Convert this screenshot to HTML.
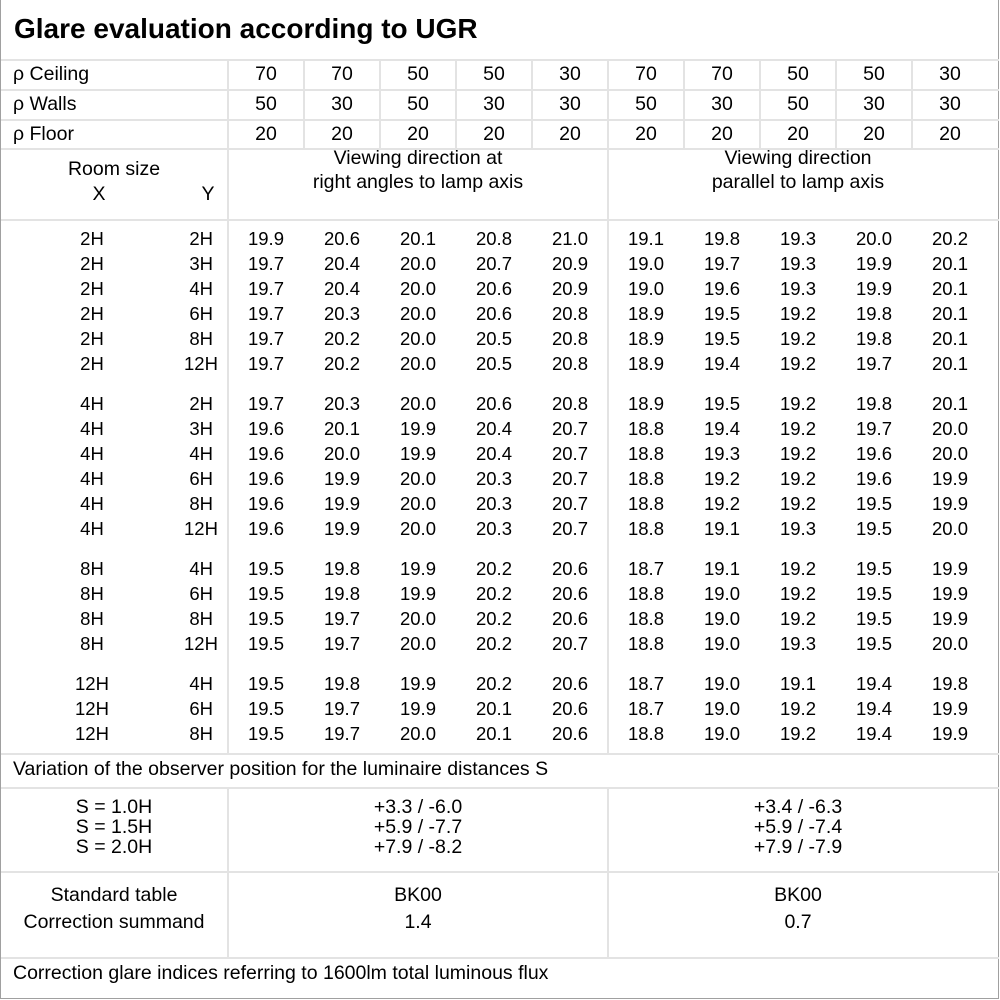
<!DOCTYPE html>
<html><head><meta charset="utf-8"><style>
*{margin:0;padding:0;box-sizing:border-box}
body{width:1000px;height:1000px;background:#fff;position:relative;overflow:hidden;font-family:"Liberation Sans","DejaVu Sans",sans-serif;font-size:19.5px;color:#000}
.frame{position:absolute;left:0;top:0;width:999px;height:999px;border:1px solid #a0a0a0;border-top:none}
.h{position:absolute;height:2px;background:#e3e3e3}
.v{position:absolute;width:2px;background:#e3e3e3}
.t{position:absolute;line-height:20px;white-space:nowrap}
.c{position:absolute;line-height:20px;white-space:nowrap;text-align:center}
.r{position:absolute;left:0;line-height:20px;white-space:nowrap;font-size:18.5px}
.r span{display:inline-block;width:76px;text-align:center}
.r span:first-child{width:184px}
.r span:nth-child(2){width:29px;text-align:right;margin-right:15px}
.hr span{display:inline-block;width:76px;text-align:center}
</style></head><body>
<div class="frame"></div>
<div class="t" style="left:14px;top:13px;font-size:28px;font-weight:bold;line-height:32px">Glare evaluation according to UGR</div>

<div class="h" style="left:1px;width:998px;top:59px"></div>
<div class="h" style="left:1px;width:998px;top:89px"></div>
<div class="h" style="left:1px;width:998px;top:119px"></div>
<div class="h" style="left:1px;width:998px;top:148px"></div>
<div class="h" style="left:1px;width:998px;top:219px"></div>
<div class="h" style="left:1px;width:998px;top:753px"></div>
<div class="h" style="left:1px;width:998px;top:787px"></div>
<div class="h" style="left:1px;width:998px;top:871px"></div>
<div class="h" style="left:1px;width:998px;top:957px"></div>

<div class="v" style="left:227px;top:60px;height:694px"></div>
<div class="v" style="left:227px;top:788px;height:170px"></div>
<div class="v" style="left:607px;top:149px;height:605px"></div>
<div class="v" style="left:607px;top:788px;height:170px"></div>
<div class="v" style="left:303px;top:60px;height:89px"></div>
<div class="v" style="left:379px;top:60px;height:89px"></div>
<div class="v" style="left:455px;top:60px;height:89px"></div>
<div class="v" style="left:531px;top:60px;height:89px"></div>
<div class="v" style="left:607px;top:60px;height:89px"></div>
<div class="v" style="left:683px;top:60px;height:89px"></div>
<div class="v" style="left:759px;top:60px;height:89px"></div>
<div class="v" style="left:835px;top:60px;height:89px"></div>
<div class="v" style="left:911px;top:60px;height:89px"></div>

<div class="t" style="left:13px;top:64px">ρ Ceiling</div>
<div class="t" style="left:13px;top:94px">ρ Walls</div>
<div class="t" style="left:13px;top:124px">ρ Floor</div>
<div class="t hr" style="left:228px;top:64px"><span>70</span><span>70</span><span>50</span><span>50</span><span>30</span><span>70</span><span>70</span><span>50</span><span>50</span><span>30</span></div>
<div class="t hr" style="left:228px;top:94px"><span>50</span><span>30</span><span>50</span><span>30</span><span>30</span><span>50</span><span>30</span><span>50</span><span>30</span><span>30</span></div>
<div class="t hr" style="left:228px;top:124px"><span>20</span><span>20</span><span>20</span><span>20</span><span>20</span><span>20</span><span>20</span><span>20</span><span>20</span><span>20</span></div>

<div class="c" style="left:0;width:228px;top:159px">Room size</div>
<div class="c" style="left:84px;width:30px;top:184px">X</div>
<div class="c" style="left:193px;width:30px;top:184px">Y</div>
<div class="c" style="left:228px;width:380px;top:146px;line-height:24px">Viewing direction at<br>right angles to lamp axis</div>
<div class="c" style="left:608px;width:380px;top:146px;line-height:24px">Viewing direction<br>parallel to lamp axis</div>

<div class="r" style="top:229px"><span>2H</span><span>2H</span><span>19.9</span><span>20.6</span><span>20.1</span><span>20.8</span><span>21.0</span><span>19.1</span><span>19.8</span><span>19.3</span><span>20.0</span><span>20.2</span></div>
<div class="r" style="top:254px"><span>2H</span><span>3H</span><span>19.7</span><span>20.4</span><span>20.0</span><span>20.7</span><span>20.9</span><span>19.0</span><span>19.7</span><span>19.3</span><span>19.9</span><span>20.1</span></div>
<div class="r" style="top:279px"><span>2H</span><span>4H</span><span>19.7</span><span>20.4</span><span>20.0</span><span>20.6</span><span>20.9</span><span>19.0</span><span>19.6</span><span>19.3</span><span>19.9</span><span>20.1</span></div>
<div class="r" style="top:304px"><span>2H</span><span>6H</span><span>19.7</span><span>20.3</span><span>20.0</span><span>20.6</span><span>20.8</span><span>18.9</span><span>19.5</span><span>19.2</span><span>19.8</span><span>20.1</span></div>
<div class="r" style="top:329px"><span>2H</span><span>8H</span><span>19.7</span><span>20.2</span><span>20.0</span><span>20.5</span><span>20.8</span><span>18.9</span><span>19.5</span><span>19.2</span><span>19.8</span><span>20.1</span></div>
<div class="r" style="top:354px"><span>2H</span><span>12H</span><span>19.7</span><span>20.2</span><span>20.0</span><span>20.5</span><span>20.8</span><span>18.9</span><span>19.4</span><span>19.2</span><span>19.7</span><span>20.1</span></div>

<div class="r" style="top:394px"><span>4H</span><span>2H</span><span>19.7</span><span>20.3</span><span>20.0</span><span>20.6</span><span>20.8</span><span>18.9</span><span>19.5</span><span>19.2</span><span>19.8</span><span>20.1</span></div>
<div class="r" style="top:419px"><span>4H</span><span>3H</span><span>19.6</span><span>20.1</span><span>19.9</span><span>20.4</span><span>20.7</span><span>18.8</span><span>19.4</span><span>19.2</span><span>19.7</span><span>20.0</span></div>
<div class="r" style="top:444px"><span>4H</span><span>4H</span><span>19.6</span><span>20.0</span><span>19.9</span><span>20.4</span><span>20.7</span><span>18.8</span><span>19.3</span><span>19.2</span><span>19.6</span><span>20.0</span></div>
<div class="r" style="top:469px"><span>4H</span><span>6H</span><span>19.6</span><span>19.9</span><span>20.0</span><span>20.3</span><span>20.7</span><span>18.8</span><span>19.2</span><span>19.2</span><span>19.6</span><span>19.9</span></div>
<div class="r" style="top:494px"><span>4H</span><span>8H</span><span>19.6</span><span>19.9</span><span>20.0</span><span>20.3</span><span>20.7</span><span>18.8</span><span>19.2</span><span>19.2</span><span>19.5</span><span>19.9</span></div>
<div class="r" style="top:519px"><span>4H</span><span>12H</span><span>19.6</span><span>19.9</span><span>20.0</span><span>20.3</span><span>20.7</span><span>18.8</span><span>19.1</span><span>19.3</span><span>19.5</span><span>20.0</span></div>

<div class="r" style="top:559px"><span>8H</span><span>4H</span><span>19.5</span><span>19.8</span><span>19.9</span><span>20.2</span><span>20.6</span><span>18.7</span><span>19.1</span><span>19.2</span><span>19.5</span><span>19.9</span></div>
<div class="r" style="top:584px"><span>8H</span><span>6H</span><span>19.5</span><span>19.8</span><span>19.9</span><span>20.2</span><span>20.6</span><span>18.8</span><span>19.0</span><span>19.2</span><span>19.5</span><span>19.9</span></div>
<div class="r" style="top:609px"><span>8H</span><span>8H</span><span>19.5</span><span>19.7</span><span>20.0</span><span>20.2</span><span>20.6</span><span>18.8</span><span>19.0</span><span>19.2</span><span>19.5</span><span>19.9</span></div>
<div class="r" style="top:634px"><span>8H</span><span>12H</span><span>19.5</span><span>19.7</span><span>20.0</span><span>20.2</span><span>20.7</span><span>18.8</span><span>19.0</span><span>19.3</span><span>19.5</span><span>20.0</span></div>

<div class="r" style="top:674px"><span>12H</span><span>4H</span><span>19.5</span><span>19.8</span><span>19.9</span><span>20.2</span><span>20.6</span><span>18.7</span><span>19.0</span><span>19.1</span><span>19.4</span><span>19.8</span></div>
<div class="r" style="top:699px"><span>12H</span><span>6H</span><span>19.5</span><span>19.7</span><span>19.9</span><span>20.1</span><span>20.6</span><span>18.7</span><span>19.0</span><span>19.2</span><span>19.4</span><span>19.9</span></div>
<div class="r" style="top:724px"><span>12H</span><span>8H</span><span>19.5</span><span>19.7</span><span>20.0</span><span>20.1</span><span>20.6</span><span>18.8</span><span>19.0</span><span>19.2</span><span>19.4</span><span>19.9</span></div>

<div class="t" style="left:13px;top:759px">Variation of the observer position for the luminaire distances S</div>

<div class="c" style="left:0;width:228px;top:797px;line-height:20px">S = 1.0H<br>S = 1.5H<br>S = 2.0H</div>
<div class="c" style="left:228px;width:380px;top:797px;line-height:20px">+3.3 / -6.0<br>+5.9 / -7.7<br>+7.9 / -8.2</div>
<div class="c" style="left:608px;width:380px;top:797px;line-height:20px">+3.4 / -6.3<br>+5.9 / -7.4<br>+7.9 / -7.9</div>

<div class="c" style="left:0;width:228px;top:882px;line-height:27px">Standard table<br>Correction summand</div>
<div class="c" style="left:228px;width:380px;top:882px;line-height:27px">BK00<br>1.4</div>
<div class="c" style="left:608px;width:380px;top:882px;line-height:27px">BK00<br>0.7</div>

<div class="t" style="left:13px;top:963px">Correction glare indices referring to 1600lm total luminous flux</div>
</body></html>
